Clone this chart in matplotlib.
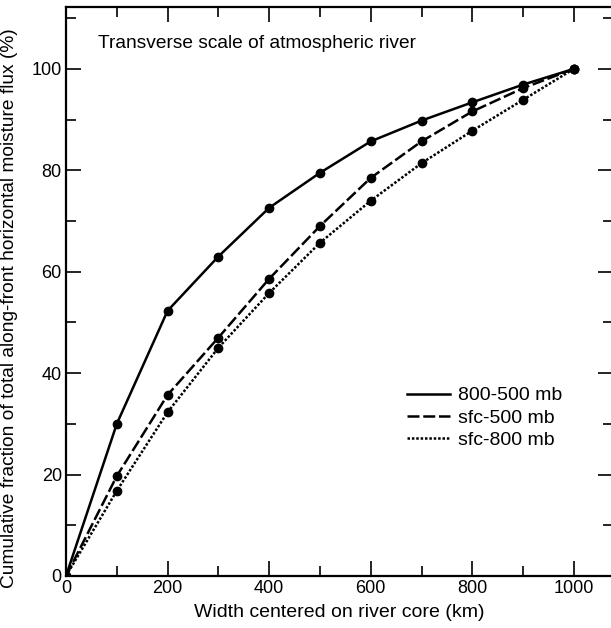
import numpy as np
import matplotlib.pyplot as plt
from matplotlib.lines import Line2D
from matplotlib.ticker import MultipleLocator

plt.rcParams['font.family'] = ['Liberation Sans', 'DejaVu Sans']

width_km = [0, 100, 200, 300, 400, 500, 600, 700, 800, 900, 1000]
flux_800_500 = [0, 30.0, 52.3, 63.0, 72.6, 79.5, 85.7, 89.8, 93.4, 96.9, 100]
flux_sfc_500 = [0, 19.7, 35.7, 47.0, 58.6, 69.0, 78.5, 85.7, 91.6, 96.2, 100]
flux_sfc_800 = [0, 16.8, 32.3, 45.0, 55.8, 65.7, 74.0, 81.4, 87.8, 93.9, 100]
labels = ['800-500 mb', 'sfc-500 mb', 'sfc-800 mb']

fig = plt.figure(figsize=(6.11, 6.28), dpi=100)
# right spine sits just past the image edge, as in the scanned original
ax = fig.add_axes([66 / 611, 52 / 628, (613 - 66) / 611, (576 - 7) / 628])

styles = ['-', (0, (4.8, 1.5)), (0, (1, 0.75))]
series = [flux_800_500, flux_sfc_500, flux_sfc_800]
handles = []
for vals, ls, lab in zip(series, styles, labels):
    ax.plot(width_km, vals, color='black', linestyle=ls, linewidth=1.8)
    ax.plot(width_km, vals, linestyle='none', marker='o', markersize=6,
            color='black')
    handles.append(Line2D([], [], color='black', linestyle=ls, linewidth=1.8))

ax.set_xlim(0, 1077)
ax.set_ylim(0, 112.2)
ax.xaxis.set_major_locator(MultipleLocator(200))
ax.xaxis.set_minor_locator(MultipleLocator(100))
ax.yaxis.set_major_locator(MultipleLocator(20))
ax.yaxis.set_minor_locator(MultipleLocator(10))
ax.tick_params(which='both', direction='in', top=True, right=True,
               width=1.2, labelsize=13, pad=3)
ax.tick_params(which='major', length=11)
ax.tick_params(which='minor', length=7.5)
for sp in ax.spines.values():
    sp.set_linewidth(1.6)

ax.set_xlabel('Width centered on river core (km)', fontsize=14, labelpad=5)
ax.set_ylabel('Cumulative fraction of total along-front horizontal moisture flux (%)',
              fontsize=13.8, labelpad=3)
ax.yaxis.set_label_coords(-0.088, 0.47)
ax.text(0.0586, 0.928, 'Transverse scale of atmospheric river', transform=ax.transAxes,
        fontsize=13.8, va='baseline', ha='left')

ax.legend(handles, labels, loc='center left', bbox_to_anchor=(407 / 611, 1 - 418 / 628),
          bbox_transform=fig.transFigure, frameon=False, fontsize=14,
          handlelength=2.2, handletextpad=0.4, labelspacing=0.25,
          borderpad=0, borderaxespad=0)

fig.savefig('out.png', dpi=100)
